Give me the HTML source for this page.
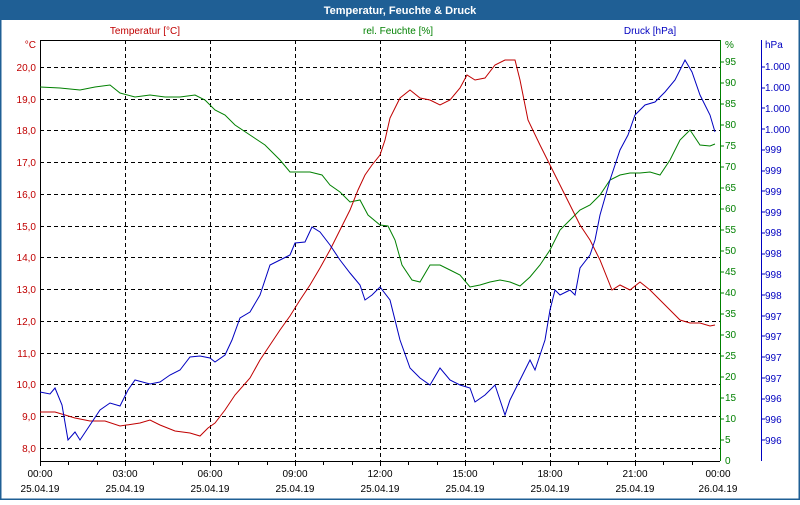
<!DOCTYPE html>
<html><head><meta charset="utf-8"><style>
body{margin:0;width:800px;height:500px;overflow:hidden;background:#fff;font-family:"Liberation Sans",sans-serif}
</style></head><body>
<svg width="800" height="500" xmlns="http://www.w3.org/2000/svg" font-family="Liberation Sans, sans-serif" font-size="10">
<rect x="0" y="0" width="800" height="500" fill="#fff"/>
<rect x="0.5" y="0.5" width="799" height="499" fill="none" stroke="#1f5f95" stroke-width="2"/>
<rect x="0" y="0" width="800" height="20" fill="#1f5f95"/>
<text x="400" y="14" fill="#fff" font-weight="bold" font-size="11" text-anchor="middle">Temperatur, Feuchte &amp; Druck</text>
<text x="145" y="34" fill="#c00000" text-anchor="middle">Temperatur [°C]</text>
<text x="398" y="34" fill="#008000" text-anchor="middle">rel. Feuchte [%]</text>
<text x="650" y="34" fill="#0000c0" text-anchor="middle">Druck [hPa]</text>
<g stroke="#000" stroke-dasharray="4,3" stroke-width="1">
<line x1="125.5" y1="40" x2="125.5" y2="461"/><line x1="210.5" y1="40" x2="210.5" y2="461"/><line x1="295.5" y1="40" x2="295.5" y2="461"/><line x1="380.5" y1="40" x2="380.5" y2="461"/><line x1="465.5" y1="40" x2="465.5" y2="461"/><line x1="550.5" y1="40" x2="550.5" y2="461"/><line x1="635.5" y1="40" x2="635.5" y2="461"/>
<line x1="40" y1="67.5" x2="720" y2="67.5"/><line x1="40" y1="99.5" x2="720" y2="99.5"/><line x1="40" y1="130.5" x2="720" y2="130.5"/><line x1="40" y1="162.5" x2="720" y2="162.5"/><line x1="40" y1="194.5" x2="720" y2="194.5"/><line x1="40" y1="226.5" x2="720" y2="226.5"/><line x1="40" y1="257.5" x2="720" y2="257.5"/><line x1="40" y1="289.5" x2="720" y2="289.5"/><line x1="40" y1="321.5" x2="720" y2="321.5"/><line x1="40" y1="353.5" x2="720" y2="353.5"/><line x1="40" y1="384.5" x2="720" y2="384.5"/><line x1="40" y1="416.5" x2="720" y2="416.5"/><line x1="40" y1="448.5" x2="720" y2="448.5"/>
</g>
<line x1="40" y1="40.5" x2="720" y2="40.5" stroke="#000"/>
<line x1="40.5" y1="40" x2="40.5" y2="461" stroke="#000"/>
<line x1="40" y1="461.5" x2="720" y2="461.5" stroke="#000"/>
<line x1="720.5" y1="40" x2="720.5" y2="461" stroke="#008000"/>
<line x1="761.5" y1="40" x2="761.5" y2="461" stroke="#0000c0"/>
<g stroke="#000" id="xt"></g>
<g fill="#c00000" text-anchor="end">
<text x="36" y="48">°C</text>
<text x="36" y="71">20,0</text><text x="36" y="103">19,0</text><text x="36" y="134">18,0</text><text x="36" y="166">17,0</text><text x="36" y="198">16,0</text><text x="36" y="230">15,0</text><text x="36" y="261">14,0</text><text x="36" y="293">13,0</text><text x="36" y="325">12,0</text><text x="36" y="357">11,0</text><text x="36" y="388">10,0</text><text x="36" y="420">9,0</text><text x="36" y="452">8,0</text>
</g>
<g fill="#008000">
<text x="725" y="48">%</text>
<text x="725" y="65">95</text><text x="725" y="86">90</text><text x="725" y="107">85</text><text x="725" y="128">80</text><text x="725" y="149">75</text><text x="725" y="170">70</text><text x="725" y="191">65</text><text x="725" y="212">60</text><text x="725" y="233">55</text><text x="725" y="254">50</text><text x="725" y="275">45</text><text x="725" y="296">40</text><text x="725" y="317">35</text><text x="725" y="338">30</text><text x="725" y="359">25</text><text x="725" y="380">20</text><text x="725" y="401">15</text><text x="725" y="422">10</text><text x="725" y="443">5</text><text x="725" y="464">0</text>
</g>
<g stroke="#008000">
<line x1="720" y1="62" x2="724" y2="62"/><line x1="720" y1="83" x2="724" y2="83"/><line x1="720" y1="104" x2="724" y2="104"/><line x1="720" y1="125" x2="724" y2="125"/><line x1="720" y1="146" x2="724" y2="146"/><line x1="720" y1="167" x2="724" y2="167"/><line x1="720" y1="188" x2="724" y2="188"/><line x1="720" y1="209" x2="724" y2="209"/><line x1="720" y1="230" x2="724" y2="230"/><line x1="720" y1="251" x2="724" y2="251"/><line x1="720" y1="272" x2="724" y2="272"/><line x1="720" y1="293" x2="724" y2="293"/><line x1="720" y1="314" x2="724" y2="314"/><line x1="720" y1="335" x2="724" y2="335"/><line x1="720" y1="356" x2="724" y2="356"/><line x1="720" y1="377" x2="724" y2="377"/><line x1="720" y1="398" x2="724" y2="398"/><line x1="720" y1="419" x2="724" y2="419"/><line x1="720" y1="440" x2="724" y2="440"/>
</g>
<g fill="#0000c0">
<text x="765" y="48">hPa</text>
<text x="765" y="70">1.000</text><text x="765" y="91">1.000</text><text x="765" y="112">1.000</text><text x="765" y="133">1.000</text>
<text x="765" y="153">999</text><text x="765" y="174">999</text><text x="765" y="195">999</text><text x="765" y="216">999</text>
<text x="765" y="236">998</text><text x="765" y="257">998</text><text x="765" y="278">998</text><text x="765" y="299">998</text>
<text x="765" y="320">997</text><text x="765" y="340">997</text><text x="765" y="361">997</text><text x="765" y="382">997</text>
<text x="765" y="402">996</text><text x="765" y="423">996</text><text x="765" y="444">996</text>
</g>
<g stroke="#0000c0">
<line x1="761" y1="67" x2="765" y2="67"/><line x1="761" y1="88" x2="765" y2="88"/><line x1="761" y1="108" x2="765" y2="108"/><line x1="761" y1="129" x2="765" y2="129"/><line x1="761" y1="150" x2="765" y2="150"/><line x1="761" y1="171" x2="765" y2="171"/><line x1="761" y1="191" x2="765" y2="191"/><line x1="761" y1="212" x2="765" y2="212"/><line x1="761" y1="233" x2="765" y2="233"/><line x1="761" y1="254" x2="765" y2="254"/><line x1="761" y1="274" x2="765" y2="274"/><line x1="761" y1="295" x2="765" y2="295"/><line x1="761" y1="316" x2="765" y2="316"/><line x1="761" y1="336" x2="765" y2="336"/><line x1="761" y1="357" x2="765" y2="357"/><line x1="761" y1="378" x2="765" y2="378"/><line x1="761" y1="399" x2="765" y2="399"/><line x1="761" y1="419" x2="765" y2="419"/><line x1="761" y1="440" x2="765" y2="440"/>
</g>
<g stroke="#000">
<line x1="68.5" y1="461" x2="68.5" y2="465"/><line x1="97.5" y1="461" x2="97.5" y2="465"/><line x1="125.5" y1="461" x2="125.5" y2="466"/><line x1="153.5" y1="461" x2="153.5" y2="465"/><line x1="182.5" y1="461" x2="182.5" y2="465"/><line x1="210.5" y1="461" x2="210.5" y2="466"/><line x1="238.5" y1="461" x2="238.5" y2="465"/><line x1="267.5" y1="461" x2="267.5" y2="465"/><line x1="295.5" y1="461" x2="295.5" y2="466"/><line x1="323.5" y1="461" x2="323.5" y2="465"/><line x1="352.5" y1="461" x2="352.5" y2="465"/><line x1="380.5" y1="461" x2="380.5" y2="466"/><line x1="408.5" y1="461" x2="408.5" y2="465"/><line x1="437.5" y1="461" x2="437.5" y2="465"/><line x1="465.5" y1="461" x2="465.5" y2="466"/><line x1="493.5" y1="461" x2="493.5" y2="465"/><line x1="522.5" y1="461" x2="522.5" y2="465"/><line x1="550.5" y1="461" x2="550.5" y2="466"/><line x1="578.5" y1="461" x2="578.5" y2="465"/><line x1="607.5" y1="461" x2="607.5" y2="465"/><line x1="635.5" y1="461" x2="635.5" y2="466"/><line x1="663.5" y1="461" x2="663.5" y2="465"/><line x1="692.5" y1="461" x2="692.5" y2="465"/><line x1="40.5" y1="461" x2="40.5" y2="466"/>
</g>
<g fill="#000" text-anchor="middle">
<text x="40" y="477">00:00</text><text x="40" y="492">25.04.19</text>
<text x="125" y="477">03:00</text><text x="125" y="492">25.04.19</text>
<text x="210" y="477">06:00</text><text x="210" y="492">25.04.19</text>
<text x="295" y="477">09:00</text><text x="295" y="492">25.04.19</text>
<text x="380" y="477">12:00</text><text x="380" y="492">25.04.19</text>
<text x="465" y="477">15:00</text><text x="465" y="492">25.04.19</text>
<text x="550" y="477">18:00</text><text x="550" y="492">25.04.19</text>
<text x="635" y="477">21:00</text><text x="635" y="492">25.04.19</text>
<text x="718" y="477">00:00</text><text x="718" y="492">26.04.19</text>
</g>
<polyline fill="none" stroke="#008000" points="40,87 60,88 80,90 95,87 110,85 120,93 135,97 150,95 165,97 180,97 195,95 205,100 215,110 225,115 235,125 250,135 265,145 280,160 290,172 300,172 310,172 322,175 330,185 340,192 350,202 360,200 368,215 380,225 388,226 395,240 402,265 412,280 420,282 430,265 440,265 450,270 460,275 470,287 480,285 490,282 500,280 510,282 520,286 530,277 540,265 550,250 560,230 570,220 580,210 590,205 600,195 610,180 620,175 630,173 640,173 650,172 660,175 670,160 680,140 690,130 700,145 710,146 715,144"/>
<polyline fill="none" stroke="#c00000" points="40,412 55,412 75,418 90,421 105,421 120,426 140,423 150,420 160,425 175,431 190,433 200,436 208,428 215,423 225,410 235,395 250,378 260,360 270,345 280,330 290,316 300,300 310,285 320,268 330,250 340,230 350,210 358,190 365,175 372,165 380,155 385,140 390,118 400,98 410,90 420,98 430,100 440,105 450,100 460,88 467,75 475,80 485,78 495,65 505,60 515,60 520,80 528,120 540,145 550,165 560,185 570,205 580,225 590,240 600,260 612,290 620,285 630,290 640,282 650,290 660,300 670,310 680,320 690,323 700,323 710,326 715,325"/>
<polyline fill="none" stroke="#0000c0" points="40,392 50,394 55,388 62,405 68,440 75,432 80,440 90,425 100,410 110,403 120,406 128,390 135,380 150,384 160,382 170,375 180,370 190,357 200,356 210,358 215,362 225,355 232,340 240,318 250,312 260,295 270,265 280,260 290,255 295,243 305,242 312,227 320,232 330,245 340,260 350,273 360,285 365,300 372,295 380,287 390,300 400,340 410,368 420,378 430,385 440,368 450,380 460,385 470,388 475,402 485,395 495,385 505,415 510,400 520,380 530,360 535,370 545,340 550,310 555,290 560,295 570,290 575,295 580,268 590,255 595,240 600,215 610,180 620,150 628,135 635,115 645,105 655,102 665,92 675,80 685,60 692,72 700,95 710,115 715,132"/>
</svg>
</body></html>
